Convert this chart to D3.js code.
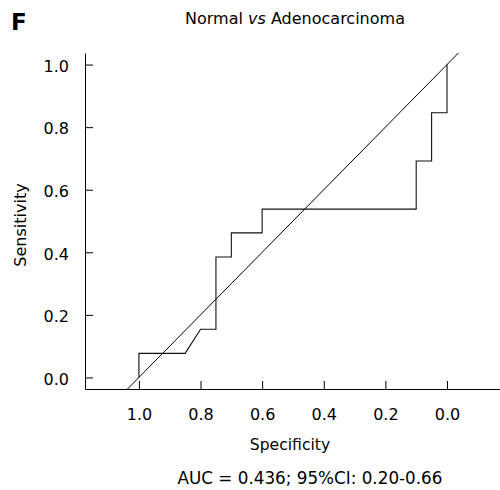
<!DOCTYPE html>
<html>
<head>
<meta charset="utf-8">
<script src="https://cdn.jsdelivr.net/npm/d3@7"></script>
<style>
  html, body { margin: 0; padding: 0; background: #fff; }
  svg { display: block; font-family: "DejaVu Sans", Verdana, sans-serif; }
</style>
</head>
<body>
<svg id="chart" width="500" height="490"></svg>
<script>
// ---- data ----
const specificity = [1.0, 1.0, 0.85, 0.80, 0.75, 0.75, 0.70, 0.70, 0.60, 0.60, 0.10, 0.10, 0.05, 0.05, 0.0, 0.0];
const sensitivity = [0.0, 0.077, 0.077, 0.154, 0.154, 0.385, 0.385, 0.462, 0.462, 0.538, 0.538, 0.692, 0.692, 0.846, 0.846, 1.0];
const xTicks = [1.0, 0.8, 0.6, 0.4, 0.2, 0.0];
const yTicks = [0.0, 0.2, 0.4, 0.6, 0.8, 1.0];
const xDomain = [1.175, -0.172];
const yDomain = [-0.037, 1.037];
const titleText = ["Normal ", "vs", " Adenocarcinoma"];
const panelLabel = "F";
const xLabel = "Specificity";
const yLabel = "Sensitivity";
const aucText = "AUC = 0.436; 95%CI: 0.20-0.66";

// ---- drawing ----
const svg = d3.select("#chart");
const x = d3.scaleLinear().domain(xDomain).range([85, 500]);
const y = d3.scaleLinear().domain(yDomain).range([389, 53]);

const fmt = d3.format(".1f");

// x axis
const gx = svg.append("g").attr("transform", "translate(0,389)")
  .call(d3.axisBottom(x).tickValues(xTicks).tickFormat(fmt).tickSizeInner(-8).tickSizeOuter(0).tickPadding(20));
gx.selectAll("text").attr("font-size", 16).attr("fill", "#000").attr("font-family", "DejaVu Sans");
gx.selectAll("line").attr("stroke", "#000");
gx.select(".domain").attr("stroke", "#000");

// y axis
const gy = svg.append("g").attr("transform", "translate(85,0)")
  .call(d3.axisLeft(y).tickValues(yTicks).tickFormat(fmt).tickSizeInner(-8).tickSizeOuter(0).tickPadding(16));
gy.selectAll("text").attr("font-size", 16).attr("fill", "#000").attr("dy", "0.42em").attr("font-family", "DejaVu Sans");
gy.selectAll("line").attr("stroke", "#000");
gy.select(".domain").attr("stroke", "#000");

// reference diagonal across the plotted range
const diag = [[yDomain[1], yDomain[0]], [yDomain[0], yDomain[1]]];
svg.append("path")
  .datum(diag)
  .attr("fill", "none")
  .attr("stroke", "#000")
  .attr("stroke-width", 1)
  .attr("d", d3.line().x(d => x(d[0])).y(d => y(d[1])));

// ROC curve
const pts = specificity.map((s, i) => [s, sensitivity[i]]);
svg.append("path")
  .datum(pts)
  .attr("fill", "none")
  .attr("stroke", "#111")
  .attr("stroke-width", 1.1)
  .attr("d", d3.line().x(d => x(d[0])).y(d => y(d[1])));

// panel label
svg.append("text").attr("x", 11).attr("y", 30)
  .attr("font-size", 23).attr("font-weight", "bold").text(panelLabel);

// title
const t = svg.append("text").attr("x", 295).attr("y", 23.5)
  .attr("text-anchor", "middle").attr("font-size", 16);
titleText.forEach((s, i) => {
  t.append("tspan").attr("font-style", i === 1 ? "italic" : "normal").text(s);
});

// x label
svg.append("text").attr("x", 290).attr("y", 450)
  .attr("text-anchor", "middle").attr("font-size", 15.6).text(xLabel);

// y label
svg.append("text").attr("transform", "translate(26,225) rotate(-90)")
  .attr("text-anchor", "middle").attr("font-size", 16).text(yLabel);

// AUC
svg.append("text").attr("x", 310).attr("y", 484)
  .attr("text-anchor", "middle").attr("font-size", 16.8).text(aucText);
</script>
</body>
</html>
